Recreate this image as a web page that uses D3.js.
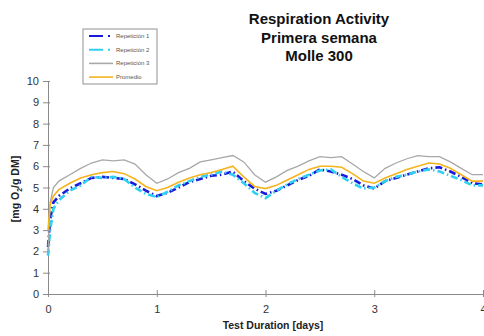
<!DOCTYPE html>
<html>
<head>
<meta charset="utf-8">
<script src="https://cdn.jsdelivr.net/npm/d3@7"></script>
<style>
body { margin:0; background:#fff; }
text { font-family: Arial, "Liberation Sans", sans-serif; }
</style>
</head>
<body>
<script>
// tiempo en dias
var dias = [0, 0.02, 0.05, 0.1, 0.2, 0.3, 0.4, 0.5, 0.6, 0.7, 0.8, 0.9, 1.0,
    1.1, 1.2, 1.3, 1.4, 1.5, 1.6, 1.7, 1.8, 1.9, 2.0,
    2.1, 2.2, 2.3, 2.4, 2.5, 2.6, 2.7, 2.8, 2.9, 3.0,
    3.1, 3.2, 3.3, 3.4, 3.5, 3.6, 3.7, 3.8, 3.9, 4.0];

var repeticion1 = [2.2, 3.5, 4.3, 4.6, 4.95, 5.2, 5.45, 5.5, 5.45, 5.4, 5.15, 4.85, 4.6,
    4.75, 5.0, 5.25, 5.4, 5.55, 5.6, 5.75, 5.3, 4.95, 4.7,
    4.85, 5.1, 5.35, 5.55, 5.85, 5.75, 5.6, 5.4, 5.1, 4.95,
    5.3, 5.45, 5.6, 5.75, 5.9, 5.95, 5.75, 5.5, 5.2, 5.15];

var repeticion2 = [1.8, 3.0, 4.0, 4.4, 4.85, 5.1, 5.5, 5.45, 5.5, 5.4, 5.0, 4.7, 4.55,
    4.8, 5.1, 5.3, 5.5, 5.6, 5.75, 5.6, 5.2, 4.75, 4.5,
    4.85, 5.15, 5.4, 5.6, 5.8, 5.85, 5.5, 5.2, 4.95, 5.0,
    5.3, 5.5, 5.6, 5.75, 5.85, 5.75, 5.55, 5.35, 5.1, 5.1];

var repeticion3 = [2.0, 4.3, 5.0, 5.3, 5.6, 5.9, 6.15, 6.3, 6.25, 6.3, 6.1, 5.6, 5.2,
    5.4, 5.7, 5.9, 6.2, 6.3, 6.4, 6.5, 6.2, 5.6, 5.25,
    5.5, 5.8, 6.0, 6.25, 6.45, 6.4, 6.45, 6.1, 5.75, 5.45,
    5.9, 6.15, 6.35, 6.5, 6.45, 6.45, 6.2, 5.9, 5.6, 5.6];

var promedio = [3.0, 4.2, 4.6, 4.9, 5.2, 5.45, 5.6, 5.7, 5.75, 5.65, 5.4, 5.05, 4.85,
    5.0, 5.25, 5.45, 5.6, 5.7, 5.85, 6.0, 5.5, 5.05, 4.95,
    5.1, 5.35, 5.6, 5.85, 6.0, 6.0, 5.95, 5.65, 5.3, 5.2,
    5.45, 5.65, 5.85, 6.0, 6.15, 6.1, 5.9, 5.6, 5.3, 5.3];

var ticksX = [0, 1, 2, 3, 4];
var ticksY = [0, 1, 2, 3, 4, 5, 6, 7, 8, 9, 10];

var series = [
    {nombre:"Repetición 1", valores:repeticion1, color:"#1a1adc", ancho:2.6, dash:"7,3,1.5,3"},
    {nombre:"Repetición 2", valores:repeticion2, color:"#2fd0f0", ancho:2.6, dash:"7,3,1.5,3"},
    {nombre:"Repetición 3", valores:repeticion3, color:"#a8a8a8", ancho:1.3, dash:null},
    {nombre:"Promedio", valores:promedio, color:"#f5b41e", ancho:1.6, dash:null}
];

var width = 484, height = 336;

var svg = d3.select("body").append("svg")
    .attr("width", width)
    .attr("height", height);

var x = d3.scaleLinear().domain([0, 4]).range([48, 483]);
var y = d3.scaleLinear().domain([0, 10]).range([294, 81]);

// titulo
var titulo = ["Respiration Activity", "Primera semana", "Molle 300"];
titulo.forEach(function(t, i){
    svg.append("text")
        .attr("x", 319)
        .attr("y", 24 + i*18.5)
        .attr("text-anchor", "middle")
        .style("font-size", "15px")
        .style("font-weight", "bold")
        .attr("fill", "#111")
        .text(t);
});

// ejes
var ejeX = svg.append("g")
    .attr("transform", "translate(0," + y(0) + ")")
    .call(d3.axisBottom(x).tickValues(ticksX).tickFormat(d3.format("d")).tickSize(0).tickPadding(11));
ejeX.select(".domain").attr("stroke", "#8a8a8a");
ejeX.selectAll("text").style("font-size", "11px").attr("fill", "#333");

ejeX.selectAll(".tick").append("line")
    .attr("y1", -4).attr("y2", 3)
    .attr("stroke", "#8a8a8a");

var ejeY = svg.append("g")
    .attr("transform", "translate(" + x(0) + ",0)")
    .call(d3.axisLeft(y).tickValues(ticksY).tickSize(0).tickPadding(9));
ejeY.select(".domain").attr("stroke", "#8a8a8a");
ejeY.selectAll("text").style("font-size", "11px").attr("fill", "#333");
ejeY.selectAll(".tick").append("line")
    .attr("x1", -5).attr("x2", 2)
    .attr("stroke", "#8a8a8a");

// titulos de ejes
svg.append("text")
    .attr("x", 273)
    .attr("y", 329)
    .attr("text-anchor", "middle")
    .style("font-size", "10.5px")
    .style("font-weight", "bold")
    .attr("fill", "#222")
    .text("Test Duration [days]");

var tituloY = svg.append("text")
    .attr("transform", "translate(19,189) rotate(-90)")
    .attr("text-anchor", "middle")
    .style("font-size", "10.5px")
    .style("font-weight", "bold")
    .attr("fill", "#222");
tituloY.append("tspan").text("[mg O");
tituloY.append("tspan").attr("dy", 3).style("font-size", "7px").text("2");
tituloY.append("tspan").attr("dy", -3).text("/g DM]");

// lineas
var linea = d3.line()
    .x(function(d, i){ return x(dias[i]); })
    .y(function(d){ return y(d); });

svg.append("g").selectAll("path")
    .data(series)
    .enter().append("path")
    .attr("d", function(s){ return linea(s.valores); })
    .attr("fill", "none")
    .attr("stroke", function(s){ return s.color; })
    .attr("stroke-width", function(s){ return s.ancho; })
    .attr("stroke-dasharray", function(s){ return s.dash; });

// leyenda
var leyenda = svg.append("g").attr("transform", "translate(83,29)");
leyenda.append("rect")
    .attr("width", 74).attr("height", 55)
    .attr("fill", "#fff")
    .attr("stroke", "#777").attr("stroke-width", 0.8);

var items = leyenda.selectAll(".item")
    .data(series)
    .enter().append("g")
    .attr("transform", function(d, i){ return "translate(0," + (7 + i*13.7) + ")"; });

items.append("line")
    .attr("x1", 6).attr("x2", 30)
    .attr("stroke", function(s){ return s.color; })
    .attr("stroke-width", function(s){ return s.dash ? 2 : 1.6; })
    .attr("stroke-dasharray", function(s){ return s.dash ? "14,5,2,10" : null; });

items.append("text")
    .attr("x", 33)
    .attr("y", 2)
    .style("font-size", "6px")
    .attr("fill", "#555")
    .text(function(s){ return s.nombre; });
</script>
</body>
</html>
